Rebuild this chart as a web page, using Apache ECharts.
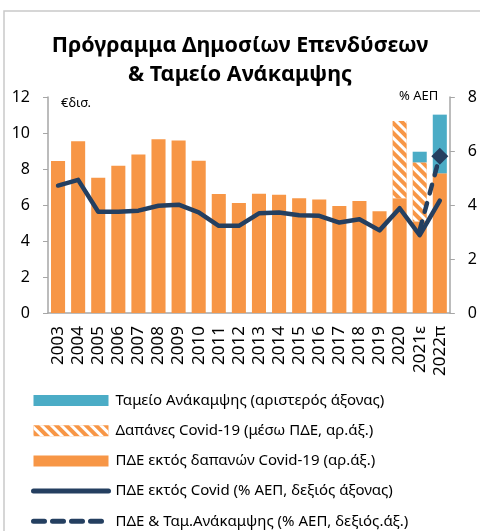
<!DOCTYPE html>
<html>
<head>
<meta charset="utf-8">
<script src="https://cdn.jsdelivr.net/npm/echarts@6/dist/echarts.min.js"></script>
<style>
html, body { margin: 0; padding: 0; background: #fff; }
#main { width: 480px; height: 531px; }
</style>
</head>
<body>
<div id="main"></div>
<script>
// Κατηγορίες (έτη)
var years = ['2003', '2004', '2005', '2006', '2007', '2008', '2009', '2010', '2011', '2012',
    '2013', '2014', '2015', '2016', '2017', '2018', '2019', '2020', '2021ε', '2022π'];
// ΠΔΕ εκτός δαπανών Covid-19 (€δισ.)
var pdeBase = [8.44, 9.54, 7.52, 8.18, 8.81, 9.65, 9.59, 8.46, 6.61, 6.11,
    6.63, 6.57, 6.37, 6.30, 5.94, 6.22, 5.65, 6.37, 5.09, 7.76];
// Δαπάνες Covid-19 μέσω ΠΔΕ (€δισ.)
var covid = [null, null, null, null, null, null, null, null, null, null,
    null, null, null, null, null, null, null, 4.30, 3.28, null];
// Ταμείο Ανάκαμψης (€δισ.)
var rrf = [null, null, null, null, null, null, null, null, null, null,
    null, null, null, null, null, null, null, null, 0.59, 3.26];
// ΠΔΕ εκτός Covid (% ΑΕΠ)
var pdeGdp = [4.72, 4.93, 3.75, 3.75, 3.79, 3.97, 4.01, 3.73, 3.23, 3.23,
    3.69, 3.72, 3.62, 3.60, 3.35, 3.47, 3.06, 3.88, 2.88, 4.16];
// ΠΔΕ & Ταμ.Ανάκαμψης (% ΑΕΠ)
var pdeRrfGdp = [null, null, null, null, null, null, null, null, null, null,
    null, null, null, null, null, null, null, null, 3.07, 5.81];

var myChart = echarts.init(document.getElementById('main'));

var font = 'Noto Sans';
var navy = '#243f60';
var dash = [9, 10];

var option = {
    animation: false,
    textStyle: { fontFamily: font },
    graphic: [
        { type: 'rect', shape: { x: 4, y: 11, width: 500, height: 540 }, style: { fill: 'none', stroke: '#c9c9c9', lineWidth: 1.5 } },
        { type: 'text', left: 'center', top: 35, style: { text: 'Πρόγραμμα Δημοσίων Επενδύσεων', font: 'bold 21.5px "Noto Sans"', fill: '#000' } },
        { type: 'text', left: 'center', top: 64, style: { text: '& Ταμείο Ανάκαμψης', font: 'bold 21.5px "Noto Sans"', fill: '#000' } },
        { type: 'text', left: 61, top: 97, style: { text: '€δισ.', font: '13px "Noto Sans"', fill: '#000' } },
        { type: 'text', left: 399, top: 90, style: { text: '% ΑΕΠ', font: '13px "Noto Sans"', fill: '#000' } }
    ],
    grid: { left: 48, right: 27, top: 97, bottom: 218 },
    legend: {
        orient: 'vertical',
        left: 31,
        top: 393,
        height: 200,
        padding: 0,
        itemWidth: 75,
        itemHeight: 11,
        itemGap: 15.2,
        selectedMode: false,
        textStyle: { fontSize: 15, color: '#000', fontFamily: font, padding: [0, 0, 0, 2] },
        data: [
            { name: 'Ταμείο Ανάκαμψης (αριστερός άξονας)', icon: 'rect' },
            { name: 'Δαπάνες Covid-19 (μέσω ΠΔΕ, αρ.άξ.)', icon: 'rect' },
            { name: 'ΠΔΕ εκτός δαπανών Covid-19 (αρ.άξ.)', icon: 'rect' },
            {
                name: 'ΠΔΕ εκτός Covid (% ΑΕΠ, δεξιός άξονας)',
                itemStyle: { opacity: 0 },
                lineStyle: { width: 5, cap: 'round' }
            },
            {
                name: 'ΠΔΕ & Ταμ.Ανάκαμψης (% ΑΕΠ, δεξιός.άξ.)',
                itemStyle: { opacity: 0 },
                lineStyle: { width: 5, type: [11, 8], cap: 'round' }
            }
        ]
    },
    xAxis: {
        type: 'category',
        data: years,
        axisLine: { lineStyle: { color: '#a6a6a6', width: 1.5 } },
        axisTick: { show: false },
        axisLabel: { rotate: 90, fontSize: 17, color: '#000', margin: 13, interval: 0 }
    },
    yAxis: [
        {
            type: 'value', min: 0, max: 12, interval: 2,
            splitLine: { show: false },
            axisLine: { show: true, lineStyle: { color: '#a6a6a6', width: 1.5 } },
            axisTick: { show: true, length: 5, lineStyle: { color: '#a6a6a6' } },
            axisLabel: { fontSize: 16, color: '#000', margin: 18 }
        },
        {
            type: 'value', min: 0, max: 8, interval: 2,
            splitLine: { show: false },
            axisLine: { show: true, lineStyle: { color: '#a6a6a6', width: 1.5 } },
            axisTick: { show: true, length: 5, lineStyle: { color: '#a6a6a6' } },
            axisLabel: { fontSize: 16, color: '#000', margin: 18 }
        }
    ],
    series: [
        {
            name: 'ΠΔΕ εκτός δαπανών Covid-19 (αρ.άξ.)',
            type: 'bar', stack: 'pde', barWidth: '70%',
            itemStyle: { color: '#f79646' },
            data: pdeBase
        },
        {
            name: 'Δαπάνες Covid-19 (μέσω ΠΔΕ, αρ.άξ.)',
            type: 'bar', stack: 'pde',
            itemStyle: {
                color: '#f79646',
                decal: { symbol: 'rect', color: '#ffffff', dashArrayX: [1, 0], dashArrayY: [3, 4], rotation: Math.PI / 4 }
            },
            data: covid
        },
        {
            name: 'Ταμείο Ανάκαμψης (αριστερός άξονας)',
            type: 'bar', stack: 'pde',
            itemStyle: { color: '#4bacc6' },
            data: rrf
        },
        {
            name: 'ΠΔΕ εκτός Covid (% ΑΕΠ, δεξιός άξονας)',
            type: 'line', yAxisIndex: 1, symbol: 'none',
            lineStyle: { color: navy, width: 4.5, cap: 'round', join: 'round' },
            itemStyle: { color: navy },
            data: pdeGdp
        },
        {
            name: 'ΠΔΕ & Ταμ.Ανάκαμψης (% ΑΕΠ, δεξιός.άξ.)',
            type: 'line', yAxisIndex: 1, symbol: 'none',
            lineStyle: { color: navy, width: 4.5, type: dash, cap: 'round' },
            itemStyle: { color: navy },
            data: pdeRrfGdp.map(function (v, i) {
                return i === pdeRrfGdp.length - 1 ? { value: v, symbol: 'diamond', symbolSize: 17 } : v;
            })
        }
    ]
};

myChart.setOption(option);
</script>
</body>
</html>
